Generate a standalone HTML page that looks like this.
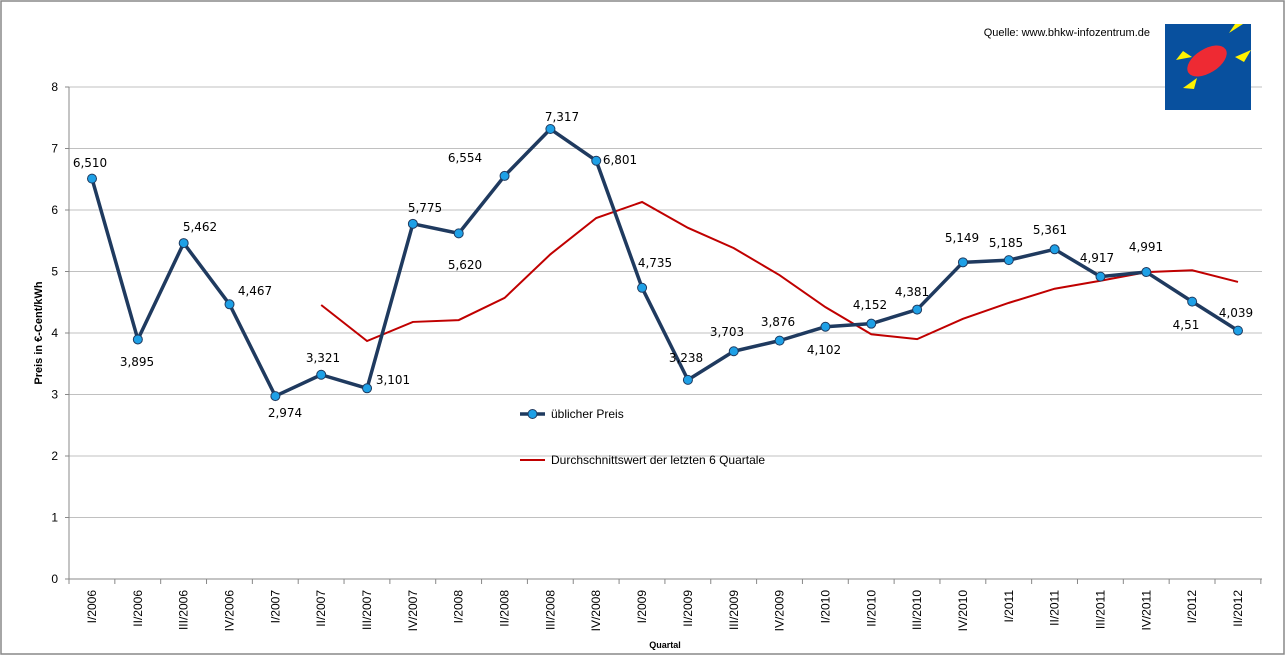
<!DOCTYPE html>
<html><head><meta charset="utf-8"><style>html,body{margin:0;padding:0;background:#fff}svg{display:block}</style></head><body>
<svg width="1286" height="656" xmlns="http://www.w3.org/2000/svg" font-family="Liberation Sans, sans-serif">
<rect x="1" y="1" width="1283" height="653" fill="#fff" stroke="#888" stroke-width="1.5"/>
<g stroke="#c0c0c0" stroke-width="1">
<line x1="69" y1="87" x2="1262" y2="87"/><line x1="69" y1="148.5" x2="1262" y2="148.5"/><line x1="69" y1="210" x2="1262" y2="210"/><line x1="69" y1="271.5" x2="1262" y2="271.5"/><line x1="69" y1="333" x2="1262" y2="333"/><line x1="69" y1="394.5" x2="1262" y2="394.5"/><line x1="69" y1="456" x2="1262" y2="456"/><line x1="69" y1="517.5" x2="1262" y2="517.5"/>
</g>
<g stroke="#888" stroke-width="1">
<line x1="69" y1="87" x2="69" y2="583"/><line x1="65" y1="579" x2="1262" y2="579"/>
<line x1="65" y1="87" x2="69" y2="87"/><line x1="65" y1="148.5" x2="69" y2="148.5"/><line x1="65" y1="210" x2="69" y2="210"/><line x1="65" y1="271.5" x2="69" y2="271.5"/><line x1="65" y1="333" x2="69" y2="333"/><line x1="65" y1="394.5" x2="69" y2="394.5"/><line x1="65" y1="456" x2="69" y2="456"/><line x1="65" y1="517.5" x2="69" y2="517.5"/>
</g>
<g id="ticks" stroke="#888"></g>
<g font-size="12" text-anchor="end" fill="#000">
<text x="58" y="91">8</text><text x="58" y="152.5">7</text><text x="58" y="214">6</text><text x="58" y="275.5">5</text><text x="58" y="337">4</text><text x="58" y="398.5">3</text><text x="58" y="460">2</text><text x="58" y="521.5">1</text><text x="58" y="583">0</text>
</g>
<text transform="translate(42,333) rotate(-90)" font-size="11" font-weight="bold" text-anchor="middle">Preis in €-Cent/kWh</text>
<text x="665" y="648" font-size="9" font-weight="bold" text-anchor="middle">Quartal</text>
<text x="1150" y="36" font-size="11" text-anchor="end">Quelle: www.bhkw-infozentrum.de</text>
<g id="xl" font-size="12"></g>
<polyline id="red" fill="none" stroke="#C00000" stroke-width="2"/>
<polyline id="blue" fill="none" stroke="#1F3A5F" stroke-width="3.5" stroke-linejoin="round"/>
<g id="mk"></g>
<g id="dl" font-family="DejaVu Sans, sans-serif" font-size="12" text-anchor="middle"></g>
<line x1="520" y1="414" x2="545" y2="414" stroke="#1F3A5F" stroke-width="3.5"/>
<circle cx="532.5" cy="414" r="4.5" fill="#1EA0E6" stroke="#1F3A5F" stroke-width="1"/>
<text x="551" y="418" font-size="12">üblicher Preis</text>
<line x1="520" y1="460" x2="545" y2="460" stroke="#C00000" stroke-width="2"/>
<text x="551" y="464" font-size="12">Durchschnittswert der letzten 6 Quartale</text>
<rect x="1165" y="24" width="86" height="86" fill="#08509E"/>
<ellipse cx="1207" cy="61" rx="22" ry="12" transform="rotate(-32 1207 61)" fill="#EE2A33"/>
<polygon points="1229,33 1243,24 1235,24" fill="#FFF200"/>
<polygon points="1176,60 1183,51 1192,57" fill="#FFF200"/>
<polygon points="1235,57 1251,50 1244,62" fill="#FFF200"/>
<polygon points="1183,88 1197,78 1194,89" fill="#FFF200"/>
</svg>
<script>
const ns="http://www.w3.org/2000/svg";
const X=i=>92+45.84*i, Y=v=>579-61.5*v;
const cats=["I/2006","II/2006","III/2006","IV/2006","I/2007","II/2007","III/2007","IV/2007","I/2008","II/2008","III/2008","IV/2008","I/2009","II/2009","III/2009","IV/2009","I/2010","II/2010","III/2010","IV/2010","I/2011","II/2011","III/2011","IV/2011","I/2012","II/2012"];
const b=[6.510,3.895,5.462,4.467,2.974,3.321,3.101,5.775,5.620,6.554,7.317,6.801,4.735,3.238,3.703,3.876,4.102,4.152,4.381,5.149,5.185,5.361,4.917,4.991,4.51,4.039];
const r=[null,null,null,null,null,4.455,3.87,4.18,4.21,4.57,5.28,5.87,6.13,5.71,5.38,4.94,4.42,3.98,3.90,4.23,4.49,4.72,4.85,4.99,5.02,4.83];
const lab=["6,510","3,895","5,462","4,467","2,974","3,321","3,101","5,775","5,620","6,554","7,317","6,801","4,735","3,238","3,703","3,876","4,102","4,152","4,381","5,149","5,185","5,361","4,917","4,991","4,51","4,039"];
const lp=[[90,163],[137,362],[200,227],[255,291],[285,413],[323,358],[393,380],[425,208],[465,265],[465,158],[562,117],[620,160],[655,263],[686,358],[727,332],[778,322],[824,350],[870,305],[912,292],[962,238],[1006,243],[1050,230],[1097,258],[1146,247],[1186,325],[1236,313]];
function el(t,a,p,txt){const e=document.createElementNS(ns,t);for(const k in a)e.setAttribute(k,a[k]);if(txt)e.textContent=txt;document.getElementById(p).appendChild(e);}
for(let k=0;k<=26;k++){el("line",{x1:69+45.84*k,y1:579,x2:69+45.84*k,y2:584},"ticks");}
cats.forEach((c,i)=>el("text",{transform:`translate(${X(i)+4},590) rotate(-90)`,"text-anchor":"end"},"xl",c));
document.getElementById("blue").setAttribute("points",b.map((v,i)=>X(i)+","+Y(v)).join(" "));
document.getElementById("red").setAttribute("points",r.map((v,i)=>v==null?null:X(i)+","+Y(v)).filter(x=>x).join(" "));
b.forEach((v,i)=>el("circle",{cx:X(i),cy:Y(v),r:4.5,fill:"#1EA0E6",stroke:"#1F3A5F","stroke-width":1},"mk"));
lp.forEach((p,i)=>el("text",{x:p[0],y:p[1]+4},"dl",lab[i]));
</script>
</body></html>
